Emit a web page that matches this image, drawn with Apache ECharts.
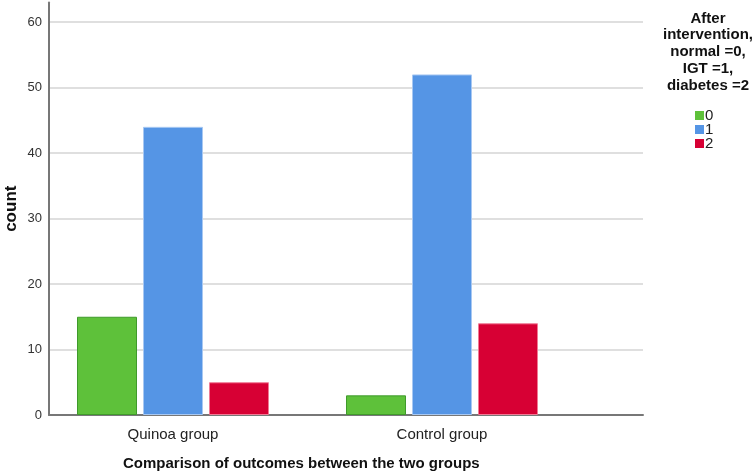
<!DOCTYPE html>
<html>
<head>
<meta charset="utf-8">
<script src="https://cdn.jsdelivr.net/npm/echarts@6/dist/echarts.min.js"></script>
<style>
  html, body { margin: 0; padding: 0; background: #fff; }
  #main { width: 752px; height: 472px; }
</style>
</head>
<body>
<div id="main"></div>
<script>
// data
var groups = ["Quinoa group", "Control group"];
var outcomeNames = ["0", "1", "2"];
var normalCounts = [15, 3];
var igtCounts = [44, 52];
var diabetesCounts = [5, 14];
var yTicks = [0, 10, 20, 30, 40, 50, 60];

var FONT = "Liberation Sans, Arial, sans-serif";
var colors = ["#5ec13a", "#5595e5", "#d70034"];
var borders = ["#3f9a2b", "#a8c8f2", "#f07a95"];
var seriesData = [normalCounts, igtCounts, diabetesCounts];

var yMax = 63;
var gridTop = 2.4, gridBottom = 57;

var chart = echarts.init(document.getElementById("main"));
var option = {
  animation: false,
  backgroundColor: "#fff",
  title: [{
    text: "Comparison of outcomes between the two groups",
    left: 118, top: 451,
    textStyle: { fontFamily: FONT, fontSize: 15, fontWeight: "bold", color: "#111" }
  }, {
    text: "After\nintervention,\nnormal =0,\nIGT =1,\ndiabetes =2",
    left: 703, top: 5, textAlign: "center",
    textStyle: { fontFamily: FONT, fontSize: 15, fontWeight: "bold", color: "#111", lineHeight: 16.8 }
  }],
  legend: {
    data: outcomeNames,
    orient: "vertical",
    left: 695, top: 108, padding: 0,
    itemWidth: 9, itemHeight: 9, itemGap: -1,
    icon: "rect",
    itemStyle: { borderWidth: 0 },
    textStyle: { fontFamily: FONT, fontSize: 15, color: "#222", padding: [0, 0, 0, -4] }
  },
  grid: [
    // background frame with gridlines
    { left: 49, width: 594, top: gridTop, bottom: gridBottom, outerBoundsMode: "none", containLabel: false },
    // bars
    { left: 38.5, width: 538, top: gridTop, bottom: gridBottom, outerBoundsMode: "none", containLabel: false }
  ],
  xAxis: [{
    gridIndex: 0, type: "category", data: [""],
    axisLine: { lineStyle: { color: "#777", width: 2 } },
    axisTick: { show: false }, axisLabel: { show: false }
  }, {
    gridIndex: 1, type: "category", data: groups,
    axisLine: { show: false }, axisTick: { show: false },
    axisLabel: { fontFamily: FONT, fontSize: 15, color: "#222", margin: 12 }
  }],
  yAxis: [{
    gridIndex: 0, type: "value", min: 0, max: yMax, interval: 10,
    name: "count", nameLocation: "middle", nameGap: 29, nameRotate: 90,
    nameMoveOverlap: false,
    nameTextStyle: { fontFamily: FONT, fontSize: 17, fontWeight: "bold", color: "#111" },
    axisLine: { show: true, lineStyle: { color: "#777", width: 2 } },
    axisTick: { show: false },
    axisLabel: {
      fontFamily: FONT, fontSize: 13, color: "#333", margin: 7,
      formatter: function (v) { return yTicks.indexOf(v) >= 0 ? String(v) : ""; }
    },
    splitLine: { show: true, showMaxLine: false, lineStyle: { color: "#d4d4d4", width: 1.5 } }
  }, {
    gridIndex: 1, type: "value", min: 0, max: yMax, interval: 10,
    axisLine: { show: false }, axisTick: { show: false },
    axisLabel: { show: false }, splitLine: { show: false }
  }],
  series: outcomeNames.map(function (n, i) {
    return {
      name: n, type: "bar", xAxisIndex: 1, yAxisIndex: 1,
      data: seriesData[i],
      barWidth: 60, barGap: "10%",
      itemStyle: { color: colors[i], borderColor: borders[i], borderWidth: 1 }
    };
  })
};
chart.setOption(option);
</script>
</body>
</html>
